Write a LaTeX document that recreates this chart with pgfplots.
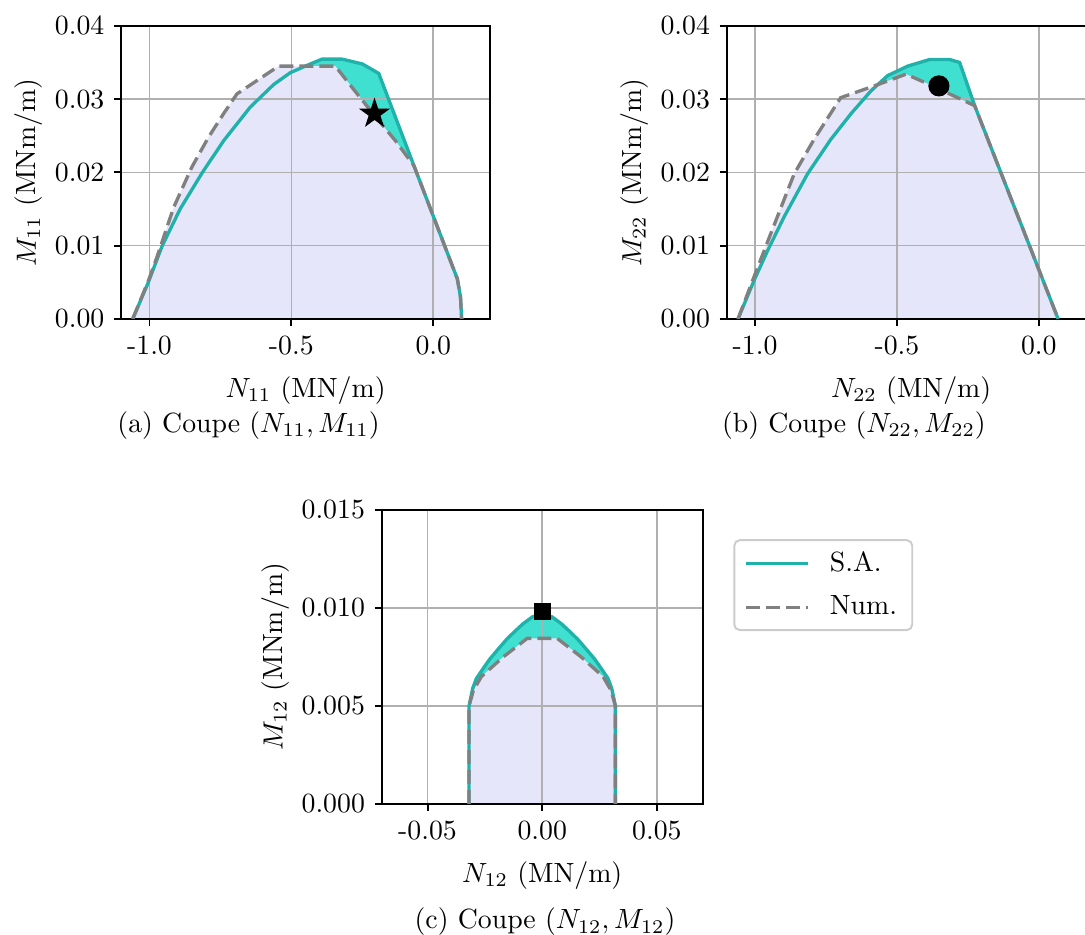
\documentclass[border=0pt]{standalone}
\usepackage{pgfplots}
\pgfplotsset{compat=1.18}
\definecolor{sacol}{RGB}{32,178,170}
\definecolor{safill}{RGB}{64,224,208}
\definecolor{numfill}{RGB}{230,230,250}
\definecolor{numcol}{RGB}{128,128,128}
\definecolor{gridcol}{RGB}{176,176,176}
\pgfdeclareplotmark{fstar}{%
  \pgfpathmoveto{\pgfpointpolar{90}{\pgfplotmarksize}}%
  \pgfpathlineto{\pgfpointpolar{126}{0.382\pgfplotmarksize}}%
  \pgfpathlineto{\pgfpointpolar{162}{\pgfplotmarksize}}%
  \pgfpathlineto{\pgfpointpolar{198}{0.382\pgfplotmarksize}}%
  \pgfpathlineto{\pgfpointpolar{234}{\pgfplotmarksize}}%
  \pgfpathlineto{\pgfpointpolar{270}{0.382\pgfplotmarksize}}%
  \pgfpathlineto{\pgfpointpolar{306}{\pgfplotmarksize}}%
  \pgfpathlineto{\pgfpointpolar{342}{0.382\pgfplotmarksize}}%
  \pgfpathlineto{\pgfpointpolar{18}{\pgfplotmarksize}}%
  \pgfpathlineto{\pgfpointpolar{54}{0.382\pgfplotmarksize}}%
  \pgfpathclose\pgfusepathqfillstroke}

\pgfplotstableread{
x y
-1.059 0
-1.004 0.0050
-0.956 0.0099
-0.892 0.0150
-0.815 0.0199
-0.739 0.0243
-0.645 0.0289
-0.562 0.0320
-0.504 0.0336
-0.433 0.0348
-0.392 0.03545
-0.321 0.03545
-0.250 0.0348
-0.192 0.0335
-0.068 0.0209
0.085 0.00545
0.096 0.0030
0.100 0
}\saA
\pgfplotstableread{
x y
-1.059 0
-1.004 0.0052
-0.974 0.0084
-0.915 0.0152
-0.851 0.0207
-0.792 0.0248
-0.739 0.0280
-0.692 0.0307
-0.545 0.0345
-0.345 0.0345
-0.274 0.0310
-0.2035 0.0276
-0.133 0.0243
-0.068 0.0209
0.085 0.00545
0.096 0.0030
0.100 0
}\numA
\pgfplotstableread{
x y
-1.060 0
-1.004 0.0052
-0.956 0.0093
-0.898 0.0139
-0.815 0.0198
-0.733 0.0245
-0.662 0.0280
-0.592 0.0311
-0.533 0.0332
-0.462 0.0345
-0.385 0.0354
-0.314 0.0354
-0.279 0.0350
-0.226 0.0291
0.068 0
}\saB
\pgfplotstableread{
x y
-1.060 0
-1.004 0.0057
-0.945 0.0116
-0.862 0.0198
-0.792 0.0245
-0.698 0.0302
-0.580 0.0318
-0.468 0.0334
-0.386 0.0320
-0.226 0.0291
0.068 0
}\numB
\pgfplotstableread{
x y
-0.0319 0
-0.0319 0.0050
-0.0312 0.0054
-0.0303 0.0059
-0.0287 0.0064
-0.0258 0.0069
-0.0228 0.0074
-0.0192 0.0079
-0.0155 0.0084
-0.0120 0.0088
-0.0083 0.0092
-0.0042 0.00955
0 0.0097
0.0042 0.00955
0.0083 0.0092
0.0120 0.0088
0.0155 0.0084
0.0192 0.0079
0.0228 0.0074
0.0258 0.0069
0.0287 0.0064
0.0303 0.0059
0.0312 0.0054
0.0319 0.0050
0.0319 0
}\saC
\pgfplotstableread{
x y
-0.0319 0
-0.0319 0.0050
-0.0300 0.0058
-0.0265 0.0065
-0.0170 0.0075
-0.0065 0.00845
0.0065 0.00845
0.0170 0.0075
0.0265 0.0065
0.0300 0.0058
0.0319 0.0050
0.0319 0
}\numC
\pgfplotstableread{
x y
-0.207 0.0280
}\ptA
\pgfplotstableread{
x y
-0.352 0.0318
}\ptB
\pgfplotstableread{
x y
0 0.0098
}\ptC

\pgfplotsset{
  myaxis/.style={
    scale only axis, anchor=south west, set layers=standard,
    axis line style={line width=0.7pt},
    grid=major, major grid style={gridcol, line width=0.6pt},
    tick align=outside, xtick pos=left, ytick pos=left,
    major tick length=2.5pt, tick style={black, line width=0.7pt},
    scaled y ticks=false, scaled x ticks=false,
    tick label style={font=\normalsize},
    label style={font=\normalsize},
    xlabel style={yshift=-1pt},
    ylabel style={yshift=-2.5pt},
  },
  safillst/.style={fill=safill, draw=none, forget plot, on layer=axis background},
  numfillst/.style={fill=numfill, draw=none, forget plot, on layer=axis background},
  salinest/.style={sacol, line width=1.2pt, mark=none},
  numlinest/.style={numcol, line width=1.2pt, dash pattern=on 5pt off 2.2pt, mark=none},
}

\begin{document}
\begin{tikzpicture}
% (a)
\begin{axis}[myaxis,
  at={(43.6pt,-114.8pt)}, width=132.8pt, height=105.5pt,
  xmin=-1.1, xmax=0.2, ymin=0, ymax=0.04,
  xtick={-1,-0.5,0}, xticklabels={-1.0,-0.5,0.0},
  ytick={0,0.01,0.02,0.03,0.04}, yticklabels={0.00,0.01,0.02,0.03,0.04},
  xlabel={$N_{11}$ (MN/m)}, ylabel={$M_{11}$ (MNm/m)},
]
\addplot[safillst] table {\saA} \closedcycle;
\addplot[numfillst] table {\numA} \closedcycle;
\addplot[salinest] table {\saA};
\addplot[numlinest] table {\numA};
\addplot[only marks, mark=fstar, mark size=5.2pt, black, forget plot] table {\ptA};
\end{axis}
% (b)
\begin{axis}[myaxis,
  at={(261.6pt,-114.8pt)}, width=132.8pt, height=105.5pt,
  xmin=-1.1, xmax=0.2, ymin=0, ymax=0.04,
  xtick={-1,-0.5,0}, xticklabels={-1.0,-0.5,0.0},
  ytick={0,0.01,0.02,0.03,0.04}, yticklabels={0.00,0.01,0.02,0.03,0.04},
  xlabel={$N_{22}$ (MN/m)}, ylabel={$M_{22}$ (MNm/m)},
]
\addplot[safillst] table {\saB} \closedcycle;
\addplot[numfillst] table {\numB} \closedcycle;
\addplot[salinest] table {\saB};
\addplot[numlinest] table {\numB};
\addplot[only marks, mark=*, mark size=3.6pt, black, forget plot] table {\ptB};
\end{axis}
% (c)
\begin{axis}[myaxis,
  at={(137.4pt,-289.4pt)}, width=115.6pt, height=105.8pt,
  xmin=-0.07, xmax=0.07, ymin=0, ymax=0.015,
  xtick={-0.05,0,0.05}, xticklabels={-0.05,0.00,0.05},
  ytick={0,0.005,0.01,0.015}, yticklabels={0.000,0.005,0.010,0.015},
  xlabel={$N_{12}$ (MN/m)}, ylabel={$M_{12}$ (MNm/m)},
  legend style={at={(1,1)}, anchor=north west, xshift=11pt, yshift=-10.5pt,
    draw=black!20, line width=0.7pt, rounded corners=2pt, fill=white,
    inner xsep=3.5pt, inner ysep=2pt, row sep=3.4pt, font=\normalsize,
    /tikz/every odd column/.append style={column sep=5.4pt}},
  legend cell align=left,
  legend image code/.code={\draw[#1] (0pt,0pt) -- (22.3pt,0pt);},
]
\addplot[safillst] table {\saC} \closedcycle;
\addplot[numfillst] table {\numC} \closedcycle;
\addplot[salinest] table {\saC};
\addlegendentry{S.A.}
\addplot[numlinest] table {\numC};
\addlegendentry{Num.}
\addplot[only marks, mark=square*, mark size=2.9pt, black, forget plot] table {\ptC};
\end{axis}
\node at (89.5pt,-153.3pt) {(a) Coupe $(N_{11}, M_{11})$};
\node at (307.4pt,-153.3pt) {(b) Coupe $(N_{22}, M_{22})$};
\node at (196.2pt,-331.9pt) {(c) Coupe $(N_{12}, M_{12})$};
\pgfresetboundingbox
\useasboundingbox (0pt,0pt) rectangle (390.6pt,-336.6pt);
\end{tikzpicture}
\end{document}
